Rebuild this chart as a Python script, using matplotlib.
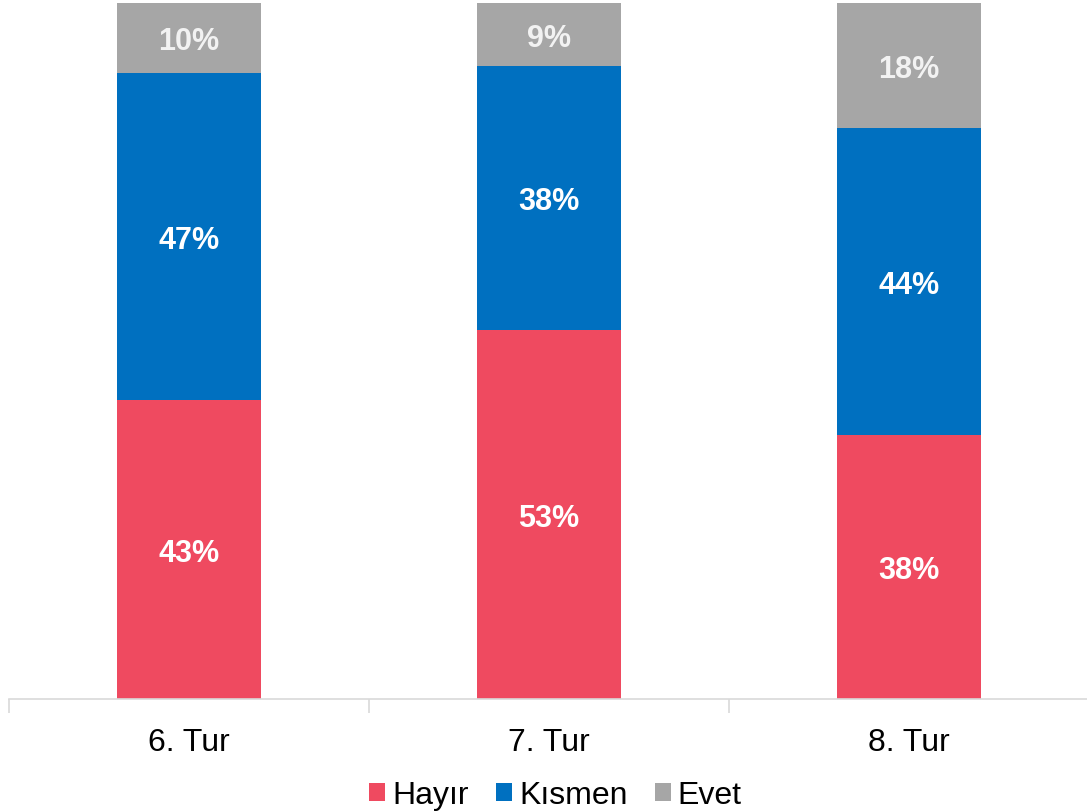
import matplotlib
matplotlib.use("Agg")
import matplotlib.pyplot as plt
import numpy as np

categories = ["6. Tur", "7. Tur", "8. Tur"]
series_names = ["Hayır", "Kısmen", "Evet"]
hayir = [43, 53, 38]
kismen = [47, 38, 44]
evet = [10, 9, 18]
colors = ["#EF4A60", "#0070C0", "#A6A6A6"]
label_colors = ["#FFFFFF", "#FFFFFF", "#F2F2F2"]

plt.rcParams["font.family"] = ["Liberation Sans", "DejaVu Sans"]

fig = plt.figure(figsize=(10.87, 8.12), dpi=100)
ax = fig.add_axes([9 / 1087, 112 / 812, 1080 / 1087, 696 / 812])

x = np.arange(len(categories))
bottom = np.zeros(len(categories))
for vals, name, col, lc in zip([hayir, kismen, evet], series_names, colors, label_colors):
    ax.bar(x, vals, width=0.4, bottom=bottom, color=col, label=name)
    for xi, b, v in zip(x, bottom, vals):
        ax.text(xi, b + v / 2, f"{v}%", ha="center", va="center_baseline",
                color=lc, fontsize=22, fontweight="bold")
    bottom = bottom + np.array(vals)

ax.set_xlim(-0.5, 2.5)
ax.set_ylim(0, 100)
ax.set_yticks([])
for s in ["top", "right", "left"]:
    ax.spines[s].set_visible(False)
ax.spines["bottom"].set_color("#D9D9D9")
ax.spines["bottom"].set_linewidth(1.2)

ax.set_xticks(x)
ax.set_xticklabels(categories, fontsize=23)
ax.tick_params(axis="x", length=0, pad=20)
ax.set_xticks([-0.5, 0.5, 1.5, 2.5], minor=True)
ax.tick_params(axis="x", which="minor", length=10, color="#D9D9D9", width=1.2)

ax.legend(loc="center", bbox_to_anchor=(0.506, -0.138), ncol=3, frameon=False,
          fontsize=23, handlelength=0.5, handleheight=0.5, handletextpad=0.22,
          columnspacing=0.85)

fig.savefig("out.png", dpi=100)
